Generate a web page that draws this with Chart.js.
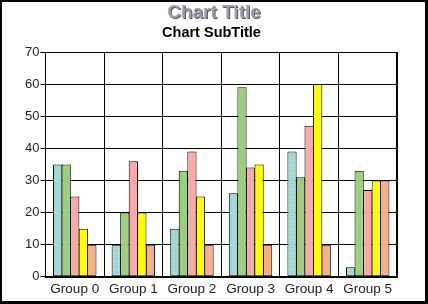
<!DOCTYPE html>
<html>
<head>
<meta charset="utf-8">
<script src="https://cdn.jsdelivr.net/npm/chart.js@4"></script>
<style>
  html, body { margin: 0; padding: 0; background: #fff; }
  #frame {
    width: 428px; height: 304px; box-sizing: border-box;
    border-top: 2px solid #000; border-left: 2px solid #000;
    border-right: 3px solid #000; border-bottom: 3px solid #000;
    background: #fff;
  }
  #wrap { position: relative; width: 423px; height: 299px; }
</style>
</head>
<body>
<div id="frame"><div id="wrap"><canvas id="chart"></canvas></div></div>
<script>
var groups = ['Group 0', 'Group 1', 'Group 2', 'Group 3', 'Group 4', 'Group 5'];
var series1 = [35, 10, 15, 26, 39, 3];
var series2 = [35, 20, 33, 59, 31, 33];
var series3 = [25, 36, 39, 34, 47, 27];
var series4 = [15, 20, 25, 35, 60, 30];
var series5 = [10, 10, 10, 10, 10, 30];
var yTicks = [0, 10, 20, 30, 40, 50, 60, 70];
var titleText = 'Chart Title';
var subTitleText = 'Chart SubTitle';

var colors = ['#a6d8d8', '#9ccf7c', '#f8aaa8', '#ffff00', '#f8b08c'];
var allSeries = [series1, series2, series3, series4, series5];

// light dotted fill like the first series in the original
function dotted(base, dot) {
    var p = document.createElement('canvas');
    p.width = 4; p.height = 4;
    var g = p.getContext('2d');
    g.fillStyle = base;
    g.fillRect(0, 0, 4, 4);
    g.fillStyle = dot;
    g.fillRect(1, 1, 1, 1);
    return g.createPattern(p, 'repeat');
}

var datasets = [];
for (var i = 0; i < allSeries.length; i++) {
    datasets.push({
        label: 'Series ' + (i + 1),
        data: allSeries[i],
        backgroundColor: i === 0 ? dotted(colors[0], '#8cc4c8') : colors[i],
        borderColor: '#000',
        borderWidth: 1,
        borderSkipped: false,
        categoryPercentage: 0.73,
        barPercentage: 1.08
    });
}

var ctx = document.getElementById('chart');
var myChart = new Chart(ctx, {
    type: 'bar',
    data: { labels: groups, datasets: datasets },
    options: {
        responsive: true,
        maintainAspectRatio: false,
        animation: false,
        layout: { padding: { left: 22, right: 28, top: 50, bottom: 0 } },
        plugins: {
            legend: { display: false },
            tooltip: { enabled: false },
            title: { display: false }
        },
        scales: {
            x: {
                offset: true,
                grid: { offset: true, color: '#000', lineWidth: 1, drawTicks: false },
                border: { color: '#000', width: 1 },
                ticks: { color: '#222', font: { family: 'Liberation Sans', size: 13.5 }, padding: 4, maxRotation: 0 }
            },
            y: {
                min: 0,
                max: 70,
                afterBuildTicks: function (axis) {
                    axis.ticks = yTicks.map(function (v) { return { value: v }; });
                },
                grid: { color: '#000', lineWidth: 1, tickLength: 5 },
                border: { color: '#000', width: 1 },
                ticks: { color: '#222', font: { family: 'Liberation Sans', size: 13 }, padding: 1 }
            }
        }
    },
    plugins: [{
        id: 'frameAndTitles',
        afterDraw: function (chart) {
            var a = chart.chartArea;
            var c = chart.ctx;
            c.save();
            c.strokeStyle = '#000';
            c.lineWidth = 1;
            c.strokeRect(Math.round(a.left) + 0.5, Math.round(a.top) + 0.5,
                Math.round(a.right - a.left), Math.round(a.bottom - a.top));

            c.textAlign = 'center';
            c.textBaseline = 'alphabetic';
            c.font = 'bold 19px "Liberation Sans"';
            c.shadowColor = '#555560';
            c.shadowOffsetX = 1;
            c.shadowOffsetY = 1;
            c.fillStyle = '#9c9ca8';
            c.fillText(titleText, 212, 16);

            c.shadowColor = 'transparent';
            c.font = 'bold 14.5px "Liberation Sans"';
            c.fillStyle = '#000';
            c.fillText(subTitleText, 209.5, 35);
            c.restore();
        }
    }]
});
</script>
</body>
</html>
